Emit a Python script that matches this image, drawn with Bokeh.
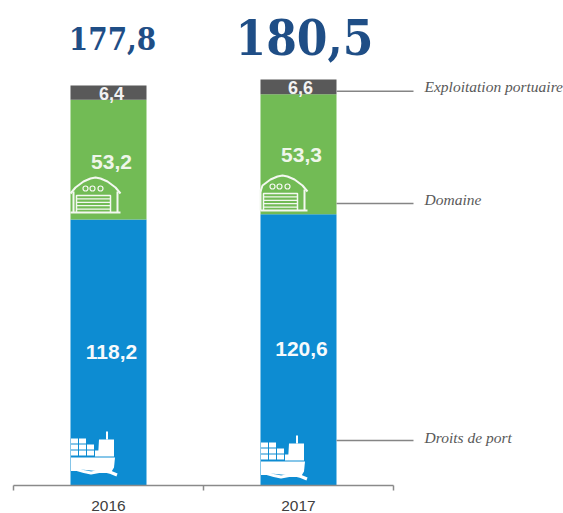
from bokeh.plotting import figure
from bokeh.models import Range1d, LinearAxis, FixedTicker
from bokeh.core.properties import value
from bokeh.embed import file_html
from bokeh.resources import INLINE

# ---- data ----
years = ["2016", "2017"]
droits = [118.2, 120.6]
domaine = [53.2, 53.3]
exploitation = [6.4, 6.6]
totals = ["177,8", "180,5"]
droits_txt = ["118,2", "120,6"]
domaine_txt = ["53,2", "53,3"]
exploitation_txt = ["6,4", "6,6"]
series_names = ["Exploitation portuaire", "Domaine", "Droits de port"]

# ---- layout (reference page pixels) ----
W, H = 563, 513
BASE = 485.0       # page y of value 0
PX_UNIT = 2.25     # px per unit
CAT_W = 190.0      # px per category
C0 = 108.0         # page x of first category


def dx(px):
    return (px - C0) / CAT_W


def dy(py):
    return (BASE - py) / PX_UNIT


xs = [0, 1]
p = figure(width=W, height=H, output_backend="svg", toolbar_location=None,
           x_range=Range1d(dx(0), dx(W)), y_range=Range1d(dy(H), dy(0)),
           min_border_left=0, min_border_right=0, min_border_top=0, min_border_bottom=0,
           x_axis_location=None, y_axis_location=None, background_fill_color="white",
           border_fill_color="white", outline_line_color=None)
p.grid.visible = False

axis = LinearAxis(ticker=FixedTicker(ticks=xs, minor_ticks=[-0.5, 0.5, 1.5]),
                  major_label_overrides={0: years[0], 1: years[1]},
                  bounds=(-0.5, 1.5), axis_line_color="#8a8a8a", axis_line_width=1.5,
                  major_tick_line_color=None, major_tick_out=0, major_tick_in=0,
                  minor_tick_line_color="#8a8a8a",
                  minor_tick_line_width=1.5, minor_tick_in=0, minor_tick_out=5,
                  major_label_standoff=10, major_label_text_font="Liberation Sans",
                  major_label_text_font_size="15.5px", major_label_text_color="#404040",
                  fixed_location=0)
p.add_layout(axis, "below")

# ---- stacked bars ----
BW = 76 / CAT_W
b1 = droits
b2 = [a + b for a, b in zip(droits, domaine)]
b3 = [a + b for a, b in zip(b2, exploitation)]
p.vbar(x=xs, width=BW, bottom=0, top=b1, fill_color="#0D8CD2", line_color=None)
p.vbar(x=xs, width=BW, bottom=b1, top=b2, fill_color="#72BB55", line_color=None)
p.vbar(x=xs, width=BW, bottom=b2, top=b3, fill_color="#595959", line_color=None)

# ---- warehouse icons (white outlines), local px offsets from the roof peak ----
WHITE = "#F4F8F1"
roof = [(-25, 16), (-20, 10), (-12, 4), (-5, 1), (0, 0), (5, 1), (12, 4), (20, 10), (25, 16)]
wall_l = [(-22, 14), (-22, 35)]
wall_r = [(22, 14), (22, 35)]
base = [(-25, 35), (25, 35)]
door = [(-19, 35), (-19, 18), (15, 18), (15, 35)]
slats = [[(-19, 18 + k * 3.4), (15, 18 + k * 3.4)] for k in range(1, 5)]
for peak_x, peak_y, left in [(95, 177, 70), (282, 175, 260)]:
    for shape, lw in [(roof, 2), (wall_l, 2), (wall_r, 2), (base, 2), (door, 1.5)] + [(s, 1.2) for s in slats]:
        p.line([dx(max(peak_x + a, left)) for a, _ in shape],
               [dy(peak_y + b) for _, b in shape], line_color=WHITE, line_width=lw)
    for off in (-10, -3, 5):
        p.scatter([dx(peak_x + off)], [dy(peak_y + 11)], size=5, marker="circle",
                  fill_color=None, line_color=WHITE, line_width=1.2)

# ---- ship icons, local px offsets from the top-left of the icon ----
for ox, oy in [(70.5, 431), (260.5, 435)]:
    rows = [(7, 2), (13, 3), (19, 4)]
    for ry, n in rows:
        for k in range(n):
            p.quad(left=dx(ox + k * 8), right=dx(ox + k * 8 + 7), top=dy(oy + ry),
                   bottom=dy(oy + ry + 5), fill_color="white", line_color=None)
    hull_x = [0, 44, 43, 40, 0]
    hull_y = [26, 26, 36, 41, 37]
    p.patch([dx(ox + a) for a in hull_x], [dy(oy + b) for b in hull_y], fill_color="white", line_color=None)
    top_x = [27, 28, 43, 43, 24, 24, 27]
    top_y = [25, 8, 8, 25, 25, 20, 20]
    p.patch([dx(ox + a) for a in top_x], [dy(oy + b) for b in top_y], fill_color="white", line_color=None)
    p.line([dx(ox + 36)] * 2, [dy(oy + 8), dy(oy + 0)], line_color="white", line_width=2)
    wave_x = [0, 6, 13, 20, 28, 36, 40, 46]
    wave_y = [38, 38, 40, 41.5, 40, 40, 41, 43.5]
    p.line([dx(ox + a) for a in wave_x], [dy(oy + b) for b in wave_y], line_color="white", line_width=3)

# ---- leader lines ----
leader_y = [90.7, 203, 440]
p.segment(x0=[dx(336)] * 3, x1=[dx(413)] * 3, y0=[dy(v) for v in leader_y], y1=[dy(v) for v in leader_y],
          line_color="#858585", line_width=1.5)


def labels(px_x, px_y, texts, font, size, color, style="normal"):
    p.text(x=[dx(v) for v in px_x], y=[dy(v) for v in px_y], text=texts, text_font=value(font),
           text_font_size=value(size), text_color=color, text_font_style=style,
           text_align="center", text_baseline="middle")


labels([112], [38], totals[:1], "DejaVu Serif Condensed", "31px", "#1F4E86", "bold")
labels([304], [36], totals[1:], "DejaVu Serif Condensed", "49px", "#1F4E86", "bold")
labels([111, 301], [351, 348], droits_txt, "Liberation Sans", "21px", "#F6FAFC", "bold")
labels([111, 301], [161, 154], domaine_txt, "Liberation Sans", "21px", "#EFF6EA", "bold")
labels([111, 300], [93, 87], exploitation_txt, "Liberation Sans", "18px", "#F2F2F2", "bold")

p.text(x=[dx(424)] * 3, y=[dy(86), dy(199), dy(437)], text=series_names,
       text_font=value("Liberation Serif"), text_font_size=value("15.5px"), text_font_style="italic",
       text_color="#595959", text_align="left", text_baseline="middle")

open("out.html", "w").write(file_html(p, INLINE))
